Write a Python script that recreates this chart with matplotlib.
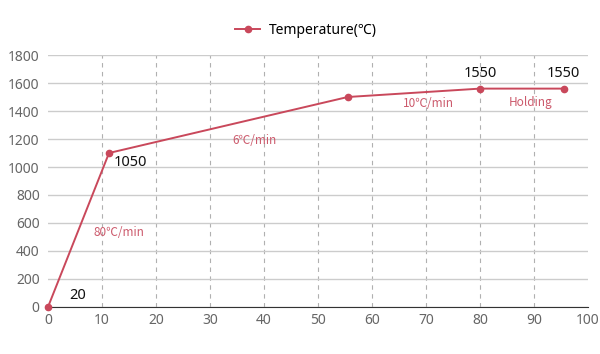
import matplotlib
matplotlib.use("Agg")
import matplotlib.pyplot as plt

plt.rcParams['font.family'] = ['Noto Sans', 'Noto Sans CJK SC', 'DejaVu Sans']

# data
time_min = [0, 11.3, 55.5, 80, 95.5]
temperature = [0, 1100, 1500, 1560, 1560]
point_labels = ["20", "1050", "", "1550", "1550"]
label_offsets = [(5.4, 85), (15.2, 1035), (0, 0), (80, 1670), (95.4, 1670)]
rate_labels = ["80℃/min", "6℃/min", "10℃/min", "Holding"]
rate_positions = [(13.2, 535), (38.3, 1190), (70.5, 1455), (89.4, 1462)]

line_color = "#c9485b"

fig = plt.figure(figsize=(6, 3.54), dpi=100)
ax = fig.add_axes([0.08, 0.1328, 0.9, 0.7118])

ax.plot(time_min, temperature, color=line_color, lw=1.4, marker="o",
        markersize=4.5, label="Temperature(℃)", zorder=3, clip_on=False)

for txt, (x, y) in zip(point_labels, label_offsets):
    if txt:
        ax.text(x, y, txt, fontsize=10.5, color="#111111", ha="center", va="center")

for txt, (x, y) in zip(rate_labels, rate_positions):
    ax.text(x, y, txt, fontsize=8.5, color="#cc5a6c", ha="center", va="center",
            family=['Noto Sans CJK SC', 'DejaVu Sans'])

ax.set_xlim(0, 100)
ax.set_ylim(0, 1800)
ax.set_xticks(range(0, 101, 10))
ax.set_yticks(range(0, 1801, 200))

# vertical dashed grid lines, horizontal solid ones
for x in range(10, 100, 10):
    ax.axvline(x, color="#b0b0b0", lw=0.8, ls=(0, (4, 4)), zorder=1)
ax.grid(axis="y", color="#cccccc", lw=1, zorder=1)

for side in ["top", "right", "left"]:
    ax.spines[side].set_visible(False)
ax.spines["bottom"].set_color("#333333")
ax.tick_params(axis="both", length=0, labelsize=10, labelcolor="#666666")
ax.tick_params(axis="x", pad=4)
ax.tick_params(axis="y", pad=6)

fig.legend(loc="upper center", bbox_to_anchor=(0.51, 0.97), frameon=False,
           fontsize=10, handlelength=1.8, handletextpad=0.6, markerscale=1.0)

fig.savefig("out.png", dpi=100)
